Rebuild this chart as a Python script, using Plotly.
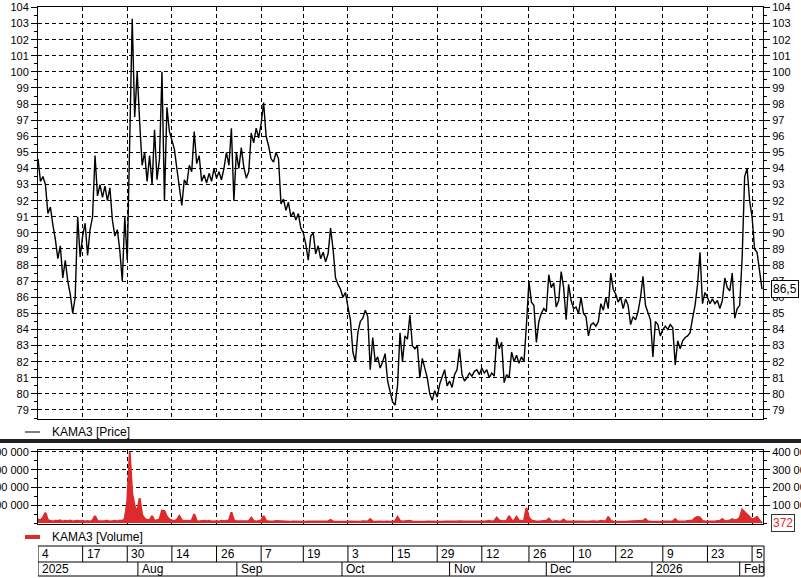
import plotly.graph_objects as go

# ---------------- data ----------------
price = [
    94.6, 93.2, 93.5, 93.0, 91.2, 91.6, 90.5, 89.6, 88.4, 89.2, 87.2, 88.3, 87.0, 86.2, 85.0, 86.0, 91.0, 88.5, 89.8,
    90.6, 88.6, 90.2, 91.0, 94.8, 92.3, 93.0, 92.2, 92.9, 92.0, 92.8, 90.8, 89.8, 90.2, 88.9, 87.0, 91.0, 88.3,
    95.5, 103.3, 97.2, 100.0, 96.9, 94.2, 95.0, 93.2, 94.8, 93.0, 96.4, 93.3, 94.6, 100.0, 92.0, 97.8, 96.3, 95.8,
    95.2, 94.0, 93.0, 91.7, 93.3, 93.0, 94.2, 93.8, 96.3, 94.3, 94.8, 93.2, 93.6, 93.1, 93.7, 93.2, 94.0, 93.4,
    93.8, 93.3, 94.0, 95.0, 94.2, 96.5, 92.0, 95.0, 94.0, 95.3, 94.1, 93.4, 93.8, 96.2, 95.6, 96.5, 95.9, 96.8,
    98.1, 96.0, 95.4, 94.6, 94.4, 95.0, 94.6, 91.8, 92.1, 91.4, 91.9, 91.0, 91.3, 90.8, 91.2, 90.3, 90.0,
    89.3, 88.3, 89.8, 90.0, 88.7, 89.2, 88.4, 88.8, 88.2, 88.7, 90.3, 89.0, 87.2, 86.8, 86.5, 86.0, 86.3, 85.4,
    84.6, 82.6, 82.0, 83.8, 84.5, 84.7, 85.2, 84.8, 81.5, 83.5, 82.0, 82.3, 81.6, 82.0, 82.5, 80.8, 80.2, 79.5,
    79.3, 80.5, 83.8, 82.0, 83.6, 83.4, 84.9, 83.0, 82.8, 83.0, 81.0, 82.2, 81.6, 81.0, 80.0, 79.6, 80.2, 79.8,
    80.6, 81.0, 81.5, 80.5, 80.8, 80.4, 81.2, 81.5, 82.8, 81.2, 80.8, 81.0, 81.3, 81.1, 81.4, 81.5, 81.2, 81.6,
    81.3, 81.5, 81.0, 81.3, 81.1, 83.5, 82.8, 83.2, 80.7, 81.2, 81.0, 82.6, 82.0, 82.4, 81.9, 82.3, 82.0, 84.3,
    87.0, 85.7, 85.5, 83.2, 84.5, 85.0, 85.3, 85.1, 87.4, 86.6, 86.9, 85.4, 85.8, 87.6, 86.6, 84.6, 86.8, 85.8, 85.3,
    85.4, 85.0, 86.0, 85.0, 84.8, 83.6, 84.3, 84.4, 84.2, 84.5, 85.6, 85.2, 86.0, 85.3, 87.5, 86.5, 86.2,
    85.7, 86.0, 85.3, 85.9, 85.5, 84.3, 84.8, 84.6, 85.1, 86.0, 87.3, 85.5, 85.0, 84.6, 82.3, 84.5, 84.3, 83.6, 84.0,
    84.2, 84.0, 84.3, 84.1, 81.8, 83.3, 82.8, 83.3, 83.5, 83.6, 83.8, 84.7, 85.5, 86.8, 88.8, 85.6, 86.3, 86.0,
    85.6, 85.9, 85.6, 85.8, 85.3, 85.8, 87.2, 86.6, 86.4, 87.5, 84.7, 85.3,
    85.5, 88.5, 93.5, 94.0, 92.0, 91.0, 89.0, 88.8, 87.5, 86.5,
]

volume = [
    22000, 14000, 30000, 58000, 16000, 12000, 9000, 13000, 11000, 15000, 8000, 12000, 10000, 14000, 9000, 11000, 13000, 10000, 12000,
    9000, 11000, 8000, 14000, 40000, 12000, 10000, 9000, 11000, 13000, 8000, 10000, 12000, 9000, 14000, 11000, 24000, 120000,
    400000, 165000, 95000, 60000, 140000, 45000, 25000, 18000, 15000, 40000, 12000, 16000, 20000, 70000, 68000, 35000, 20000, 14000,
    12000, 18000, 40000, 15000, 11000, 13000, 10000, 14000, 50000, 12000, 9000, 11000, 13000, 10000, 12000, 8000, 11000, 10000,
    9000, 12000, 10000, 11000, 14000, 60000, 15000, 10000, 9000, 12000, 8000, 10000, 11000, 30000, 12000, 9000, 11000, 14000,
    40000, 12000, 10000, 8000, 9000, 11000, 10000, 13000, 9000, 8000, 10000, 7000, 9000, 8000, 10000, 9000, 8000,
    7000, 9000, 8000, 10000, 7000, 8000, 9000, 7000, 8000, 10000, 18000, 9000, 8000, 7000, 9000, 8000, 7000, 9000,
    8000, 7000, 9000, 8000, 7000, 10000, 8000, 9000, 22000, 8000, 7000, 9000, 8000, 7000, 9000, 8000, 7000, 9000,
    10000, 34000, 12000, 9000, 11000, 10000, 12000, 9000, 8000, 10000, 9000, 8000, 7000, 9000, 8000, 7000, 8000, 9000,
    8000, 7000, 9000, 8000, 7000, 8000, 9000, 8000, 10000, 7000, 8000, 9000, 7000, 8000, 9000, 8000, 7000, 9000,
    8000, 10000, 12000, 9000, 11000, 30000, 14000, 12000, 10000, 13000, 40000, 15000, 12000, 35000, 14000, 11000, 13000, 85000,
    30000, 14000, 10000, 9000, 8000, 10000, 9000, 12000, 25000, 10000, 9000, 11000, 8000, 10000, 20000, 9000, 8000, 10000, 9000,
    8000, 9000, 10000, 8000, 7000, 9000, 8000, 10000, 9000, 8000, 12000, 10000, 9000, 35000, 12000, 9000, 8000,
    7000, 8000, 9000, 7000, 8000, 9000, 7000, 8000, 10000, 9000, 12000, 22000, 9000, 8000, 7000, 9000, 8000, 7000, 9000,
    8000, 7000, 9000, 10000, 22000, 9000, 8000, 10000, 9000, 11000, 12000, 14000, 28000, 35000, 30000, 12000, 10000, 9000,
    8000, 10000, 9000, 11000, 12000, 22000, 10000, 12000, 14000, 22000, 15000, 18000,
    30000, 75000, 60000, 45000, 30000, 20000, 25000, 35000, 15000, 372,
]

bar_index = list(range(len(price)))

# date grid (bar positions) and labels
day_ticks = [0, 18, 36, 54, 72, 90, 107, 125, 143, 161, 179, 198, 216, 233, 252, 270, 288]
day_labels = ["4", "17", "30", "14", "26", "7", "19", "3", "15", "29", "12", "26", "10", "22", "9", "23", "5"]
month_starts = [0, 40.3, 80.2, 122.6, 166, 205, 247.6, 283]
month_labels = ["2025", "Aug", "Sep", "Oct", "Nov", "Dec", "2026", "Feb"]

price_ticks = list(range(79, 105))
vol_ticks = [100000, 200000, 300000, 400000]
vol_tick_text = ["100 000", "200 000", "300 000", "400 000"]

last_price_label = "86,5"
last_volume_label = "372"

# ---------------- layout constants ----------------
W, H = 801, 578
ML, MR, MT, MB = 38, 38, 7, 2
PH = H - MT - MB


def py(ypix):
    return (H - MB - ypix) / PH


def px(xpix):
    return (xpix - ML) / (W - ML - MR)


FONT = "Arial, Liberation Sans, sans-serif"
RED = "#dd2a2a"
XR = [0, 292.4]

fig = go.Figure()
fig.add_trace(go.Scatter(x=bar_index, y=price, mode="lines", line=dict(color="black", width=1.4),
                         xaxis="x", yaxis="y", showlegend=False, hoverinfo="skip"))
fig.add_trace(go.Scatter(x=bar_index, y=price, mode="lines", line=dict(color="rgba(0,0,0,0)", width=0),
                         xaxis="x", yaxis="y3", showlegend=False, hoverinfo="skip"))
fig.add_trace(go.Scatter(x=bar_index, y=volume, mode="lines", fill="tozeroy", fillcolor=RED,
                         line=dict(color=RED, width=2), xaxis="x2", yaxis="y2",
                         showlegend=False, hoverinfo="skip"))
fig.add_trace(go.Scatter(x=bar_index, y=volume, mode="lines", line=dict(color="rgba(0,0,0,0)", width=0),
                         xaxis="x2", yaxis="y4", showlegend=False, hoverinfo="skip"))

grid = dict(showgrid=True, gridcolor="black", gridwidth=1, griddash="4px,3px")
xcommon = dict(range=XR, tickmode="array", tickvals=day_ticks, showticklabels=False, ticks="",
               showline=True, linecolor="black", linewidth=1, mirror=True, zeroline=False,
               automargin=False, **grid)
tickfont = dict(family=FONT, size=11, color="black")

price_dom = [py(419), 1.0]
vol_dom = [py(524), py(450)]

yprice = dict(range=[78.44, 104.03], tickmode="array", tickvals=price_ticks, ticks="outside", ticklen=6,
              tickcolor="black", tickfont=tickfont, zeroline=False, automargin=False,
              minor=dict(tickmode="linear", dtick=0.5, tick0=0, ticks="outside", ticklen=3, tickcolor="black",
                         showgrid=False))
yvol = dict(range=[-5600, 411000], tickmode="array", tickvals=vol_ticks, ticktext=vol_tick_text, ticks="outside",
            ticklen=6, tickcolor="black", tickfont=tickfont, zeroline=False, automargin=False,
            minor=dict(tickmode="linear", dtick=50000, tick0=0, ticks="outside", ticklen=3, tickcolor="black",
                       showgrid=False))

fig.update_layout(
    width=W, height=H, margin=dict(l=ML, r=MR, t=MT, b=MB, autoexpand=False),
    paper_bgcolor="white", plot_bgcolor="white", showlegend=False,
    xaxis=dict(domain=[0, 1], anchor="y", **xcommon),
    xaxis2=dict(domain=[0, 1], anchor="y2", matches="x", **xcommon),
    yaxis=dict(domain=price_dom, anchor="x", side="left", showline=True, linecolor="black", mirror=True,
               **grid, **yprice),
    yaxis3=dict(overlaying="y", anchor="x", side="right", showgrid=False, showline=False, **yprice),
    yaxis2=dict(domain=vol_dom, anchor="x2", side="left", showline=True, linecolor="black", mirror=True,
                **grid, **yvol),
    yaxis4=dict(overlaying="y2", anchor="x2", side="right", showgrid=False, showline=False, **yvol),
)

shapes = []
annotations = []

# separator between panels
shapes.append(dict(type="line", xref="paper", yref="paper", x0=px(0), x1=px(W), y0=py(441), y1=py(441),
                   line=dict(color="#222222", width=4)))

# legends
shapes.append(dict(type="line", xref="paper", yref="paper", x0=px(25), x1=px(40), y0=py(432), y1=py(432),
                   line=dict(color="black", width=1)))
annotations.append(dict(xref="paper", yref="paper", x=px(50), y=py(432), xanchor="left", yanchor="middle",
                        text="KAMA3 [Price]", showarrow=False, font=dict(family=FONT, size=12, color="black")))
shapes.append(dict(type="line", xref="paper", yref="paper", x0=px(25), x1=px(40), y0=py(537), y1=py(537),
                   line=dict(color=RED, width=4)))
annotations.append(dict(xref="paper", yref="paper", x=px(50), y=py(537), xanchor="left", yanchor="middle",
                        text="KAMA3 [Volume]", showarrow=False, font=dict(family=FONT, size=12, color="black")))

# date table
t_top, t_mid, t_bot = py(546), py(562), py(576)
for yy in (t_top, t_mid, t_bot):
    shapes.append(dict(type="line", xref="paper", yref="paper", x0=0, x1=px(764), y0=yy, y1=yy,
                       line=dict(color="black", width=1)))
shapes.append(dict(type="line", xref="paper", yref="paper", x0=px(764), x1=px(764), y0=t_bot, y1=t_top,
                   line=dict(color="black", width=1)))
for t, lab in zip(day_ticks, day_labels):
    shapes.append(dict(type="line", xref="x", yref="paper", x0=t, x1=t, y0=t_mid, y1=t_top,
                       line=dict(color="black", width=1)))
    annotations.append(dict(xref="x", yref="paper", x=t, y=py(554), xanchor="left", yanchor="middle", xshift=2,
                            text=lab, showarrow=False, font=dict(family=FONT, size=12, color="black")))
for m, lab in zip(month_starts, month_labels):
    shapes.append(dict(type="line", xref="x", yref="paper", x0=m, x1=m, y0=t_bot, y1=t_mid,
                       line=dict(color="black", width=1)))
    annotations.append(dict(xref="x", yref="paper", x=m, y=py(569), xanchor="left", yanchor="middle", xshift=2,
                            text=lab, showarrow=False, font=dict(family=FONT, size=12, color="black")))

# last value boxes
annotations.append(dict(xref="paper", yref="y", x=px(771), y=price[-1], xanchor="left", yanchor="middle",
                        text=last_price_label, showarrow=False, bgcolor="white", bordercolor="black",
                        borderwidth=1, borderpad=1, font=dict(family=FONT, size=12, color="black")))
annotations.append(dict(xref="paper", yref="y2", x=px(771), y=volume[-1], xanchor="left", yanchor="middle",
                        text=last_volume_label, showarrow=False, bgcolor="white", bordercolor="#333333",
                        borderwidth=1, borderpad=1, font=dict(family=FONT, size=12, color=RED)))

fig.update_layout(shapes=shapes, annotations=annotations)

fig.write_html("out.html", config={"displayModeBar": False},
               post_script="document.body.style.margin='0';")
